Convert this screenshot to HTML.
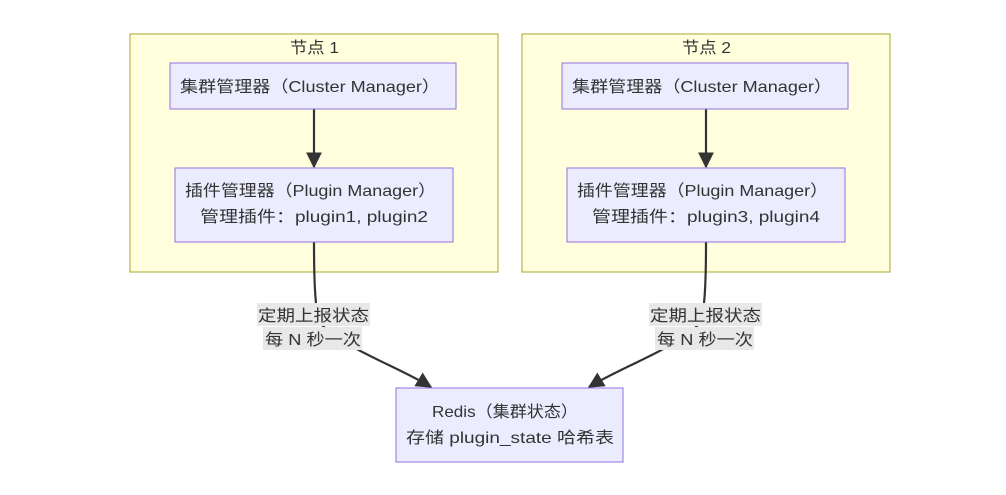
<!DOCTYPE html>
<html><head><meta charset="utf-8"><style>
body{margin:0;background:#fff}
text{font-family:"Liberation Sans","Noto Sans CJK SC",sans-serif;font-size:16px;fill:#333}
</style></head><body>
<svg width="1006" height="490" viewBox="0 0 1006 490" xmlns="http://www.w3.org/2000/svg">
<defs>
<marker id="b" viewBox="0 0 12 12" refX="11" refY="6" markerWidth="16" markerHeight="16" orient="auto" markerUnits="userSpaceOnUse"><path d="M0,0L12,6L0,12z" fill="#333"/></marker></defs>
<rect x="130" y="34" width="368" height="238" fill="#ffffde" stroke="#aaaa33"/>
<rect x="522" y="34" width="368" height="238" fill="#ffffde" stroke="#aaaa33"/>
<text x="290" y="53" textLength="49" lengthAdjust="spacingAndGlyphs">节点 1</text>
<text x="682" y="53" textLength="49" lengthAdjust="spacingAndGlyphs">节点 2</text>
<g fill="none" stroke="#333" stroke-width="2.2">
<path d="M314,109V167" marker-end="url(#b)"/>
<path d="M706,109V167" marker-end="url(#b)"/>
<path d="M314,242C314,280 315,300 318,320C335,345 395,365 431,387" marker-end="url(#b)"/>
<path d="M706,242C706,280 705,300 702,320C685,345 625,365 589,387" marker-end="url(#b)"/>
</g>
<g fill="#ececff" stroke="#9370db">
<rect x="170" y="63" width="286" height="46"/>
<rect x="175" y="168" width="278" height="74"/>
<rect x="562" y="63" width="286" height="46"/>
<rect x="567" y="168" width="278" height="74"/>
<rect x="396" y="388" width="227" height="74"/>
</g>
<g lengthAdjust="spacingAndGlyphs">
<text x="180" y="92" textLength="260" lengthAdjust="spacingAndGlyphs">集群管理器（Cluster Manager）</text>
<text x="572" y="92" textLength="260" lengthAdjust="spacingAndGlyphs">集群管理器（Cluster Manager）</text>
<text x="185" y="196" textLength="251" lengthAdjust="spacingAndGlyphs">插件管理器（Plugin Manager）</text>
<text x="200" y="222" textLength="228" lengthAdjust="spacingAndGlyphs">管理插件：plugin1, plugin2</text>
<text x="577" y="196" textLength="251" lengthAdjust="spacingAndGlyphs">插件管理器（Plugin Manager）</text>
<text x="592" y="222" textLength="228" lengthAdjust="spacingAndGlyphs">管理插件：plugin3, plugin4</text>
<text x="432" y="417" textLength="146" lengthAdjust="spacingAndGlyphs">Redis（集群状态）</text>
<text x="406" y="443" textLength="208" lengthAdjust="spacingAndGlyphs">存储 plugin_state 哈希表</text>
</g>
<g fill="#e8e8e8">
<rect x="257" y="303" width="113" height="23"/><rect x="263" y="327" width="99" height="23"/>
<rect x="649" y="303" width="113" height="23"/><rect x="655" y="327" width="99" height="23"/>
</g>
<text x="258" y="321" textLength="111" lengthAdjust="spacingAndGlyphs">定期上报状态</text>
<text x="265" y="345" textLength="96" lengthAdjust="spacingAndGlyphs">每 N 秒一次</text>
<text x="650" y="321" textLength="111" lengthAdjust="spacingAndGlyphs">定期上报状态</text>
<text x="657" y="345" textLength="96" lengthAdjust="spacingAndGlyphs">每 N 秒一次</text>
</svg>
</body></html>
